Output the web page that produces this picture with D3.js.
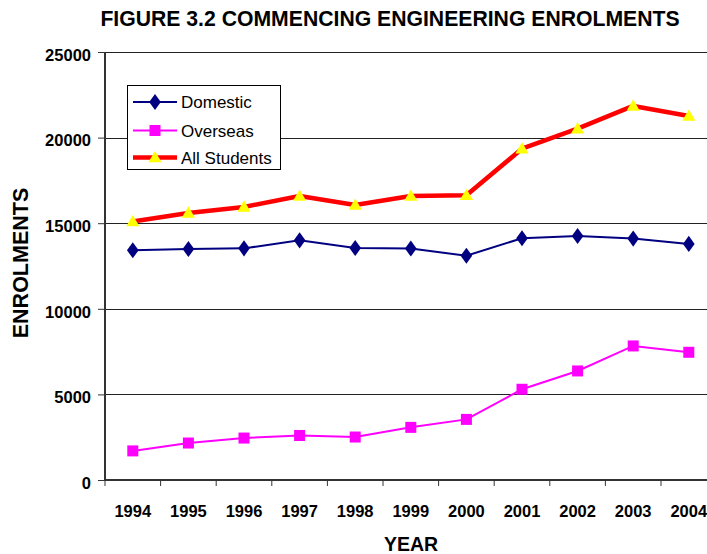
<!DOCTYPE html>
<html><head><meta charset="utf-8">
<script src="https://cdn.jsdelivr.net/npm/d3@7"></script>
<style>body{margin:0;background:#fff}svg{display:block}text{font-family:"Liberation Sans",Arial,sans-serif}</style>
</head><body><svg id="c" width="707" height="554"></svg>
<script>
const years = ["1994","1995","1996","1997","1998","1999","2000","2001","2002","2003","2004"];
const domestic = [13420,13490,13530,14000,13550,13520,13100,14120,14250,14100,13790];
const overseas = [1700,2160,2450,2600,2510,3075,3540,5300,6370,7830,7460];
const allStudents = [15100,15600,15950,16590,16060,16590,16630,19350,20520,21850,21260];
const yTicks = [0,5000,10000,15000,20000,25000];
const seriesNames = ["Domestic","Overseas","All Students"];

const svg = d3.select("#c");
const FONT = "'Liberation Sans',Arial,sans-serif";
const x = d3.scaleBand().domain(years).range([105, 105 + 11*55.6]).padding(0);
const y = d3.scaleLinear().domain([0,25000]).range([480,52]);
const cx = d => x(d) + x.bandwidth()/2;

// gridlines
svg.append("g").selectAll("line").data(yTicks.filter(t=>t>0)).join("line")
  .attr("x1",105).attr("x2",720).attr("y1",d=>Math.round(y(d))+0.5).attr("y2",d=>Math.round(y(d))+0.5)
  .attr("stroke","#222").attr("stroke-width",1);

// y axis
const ya = svg.append("g").attr("transform","translate(105,0)")
  .call(d3.axisLeft(y).tickValues(yTicks).tickSize(7).tickPadding(7).tickFormat(d3.format("d")));
ya.select(".domain").attr("stroke","#333").attr("stroke-width",2).attr("d","M0,52V481");
ya.selectAll(".tick line").attr("stroke","#333");
ya.selectAll("text").attr("font-size",16.5).attr("font-weight","bold").attr("fill","#000")
  .attr("font-family",FONT).attr("dy","0.5em");

// x axis
const xa = svg.append("g").attr("transform","translate(0,480)")
  .call(d3.axisBottom(x).tickSize(0).tickPadding(25));
xa.select(".domain").attr("stroke","#333").attr("stroke-width",2).attr("d","M105,0H720");
xa.selectAll("text").attr("font-size",16.5).attr("font-weight","bold").attr("fill","#000")
  .attr("font-family",FONT);
svg.append("g").selectAll("line").data(years).join("line")
  .attr("x1",d=>x(d)).attr("x2",d=>x(d)).attr("y1",480).attr("y2",486)
  .attr("stroke","#333").attr("stroke-width",1);

const line = d3.line().x((d,i)=>cx(years[i])).y(d=>y(d));

// All students
svg.append("path").datum(allStudents).attr("d",line).attr("fill","none")
  .attr("stroke","#ff0000").attr("stroke-width",4.5).attr("stroke-linejoin","round");
const tri = d3.symbol().type(d3.symbolTriangle).size(75);
svg.append("g").selectAll("path").data(allStudents).join("path")
  .attr("d",tri).attr("transform",(d,i)=>`translate(${cx(years[i])},${y(d)+1})`)
  .attr("fill","#ffff00");

// Domestic
svg.append("path").datum(domestic).attr("d",line).attr("fill","none")
  .attr("stroke","#000080").attr("stroke-width",2);
svg.append("g").selectAll("path").data(domestic).join("path")
  .attr("d",d3.symbol().type(d3.symbolDiamond).size(75))
  .attr("transform",(d,i)=>`translate(${cx(years[i])},${y(d)}) scale(1.25,1)`)
  .attr("fill","#000080");

// Overseas
svg.append("path").datum(overseas).attr("d",line).attr("fill","none")
  .attr("stroke","#ff00ff").attr("stroke-width",2);
svg.append("g").selectAll("rect").data(overseas).join("rect")
  .attr("x",(d,i)=>cx(years[i])-5.5).attr("y",d=>y(d)-5.5).attr("width",11).attr("height",11)
  .attr("fill","#ff00ff");

// legend
const lg = svg.append("g");
lg.append("rect").attr("x",127.5).attr("y",85.5).attr("width",153).attr("height",84)
  .attr("fill","#fff").attr("stroke","#000").attr("stroke-width",1);
const ly = [102, 130.5, 157.5];
const lcol = ["#000080","#ff00ff","#ff0000"];
const lw = [2,2,4.5];
seriesNames.forEach((n,i)=>{
  lg.append("line").attr("x1",133).attr("x2",177).attr("y1",ly[i]).attr("y2",ly[i])
    .attr("stroke",lcol[i]).attr("stroke-width",lw[i]);
  if(i===0) lg.append("path").attr("d",d3.symbol().type(d3.symbolDiamond).size(75)())
    .attr("transform",`translate(155,${ly[i]}) scale(1.25,1)`).attr("fill","#000080");
  if(i===1) lg.append("rect").attr("x",149.5).attr("y",ly[i]-5.5).attr("width",11).attr("height",11).attr("fill","#ff00ff");
  if(i===2) lg.append("path").attr("d",tri()).attr("transform",`translate(155,${ly[i]+1})`).attr("fill","#ffff00");
  lg.append("text").attr("x",181).attr("y",ly[i]+6).attr("font-size",17).text(n);
});

// titles
svg.append("text").attr("x",390).attr("y",26).attr("text-anchor","middle")
  .attr("font-size",21.2).attr("font-weight","bold").text("FIGURE 3.2 COMMENCING ENGINEERING ENROLMENTS");
svg.append("text").attr("x",411).attr("y",551).attr("text-anchor","middle")
  .attr("font-size",19.5).attr("font-weight","bold").text("YEAR");
svg.append("text").attr("transform","translate(28,263) rotate(-90)").attr("text-anchor","middle")
  .attr("font-size",21.5).attr("font-weight","bold").text("ENROLMENTS");
</script></body></html>
